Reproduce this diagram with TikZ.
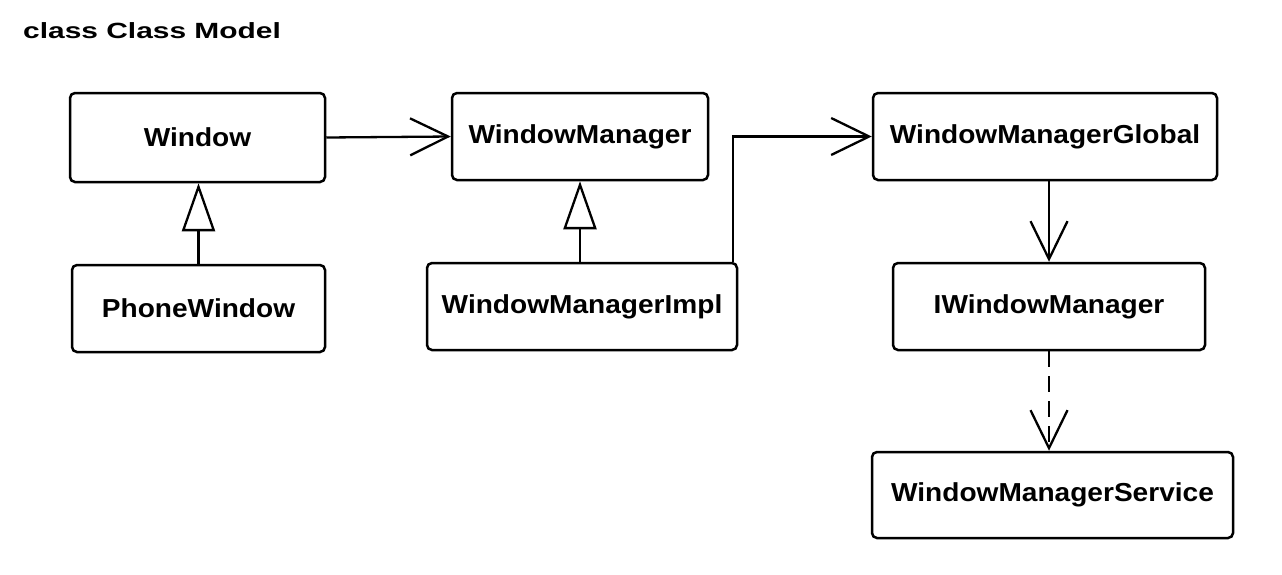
\documentclass[tikz,border=0pt]{standalone}
\usepackage{fontspec}
\setmainfont{Liberation Sans}[FakeStretch=1.08]
\newfontfamily\titlefont{Liberation Sans}[FakeStretch=1.36]
\usetikzlibrary{arrows.meta}
\begin{document}
\begin{tikzpicture}[x=1pt,y=-1pt,
  umlbox/.style={draw=black, line width=2.5pt, rounded corners=5pt, fill=white,
    font=\fontsize{26}{30}\selectfont\bfseries, inner sep=0pt},
  assoc/.style={line width=2.3pt, -{Straight Barb[length=38pt,width=37pt]}},
  inherit/.style={line width=2.3pt, -{Triangle[open,length=48pt,width=33pt,fill=white]}},
  depend/.style={line width=2.3pt, dash pattern=on 16pt off 9pt, -{Straight Barb[length=38pt,width=37pt]}}
]
\useasboundingbox[fill=white] (0,0) rectangle (1282,574);
\node[anchor=base west, font=\titlefont\fontsize{22}{26}\selectfont\bfseries, inner sep=0pt] (title) at (23,38) {class Class Model};

\node[umlbox, minimum width=255pt, minimum height=89pt] (win) at (197.5,137.5) {Window};
\node[umlbox, minimum width=253pt, minimum height=87pt] (pw) at (198.5,308.5) {PhoneWindow};
\node[umlbox, minimum width=256pt, minimum height=87pt] (wm) at (580,136.5) {WindowManager};
\node[umlbox, minimum width=310pt, minimum height=87pt] (impl) at (582,306.5) {WindowManagerImpl};
\node[umlbox, minimum width=344pt, minimum height=87pt] (glob) at (1045,136.5) {WindowManagerGlobal};
\node[umlbox, minimum width=312pt, minimum height=87pt] (iwm) at (1049,306.5) {IWindowManager};
\node[umlbox, minimum width=361pt, minimum height=86pt] (svc) at (1052.5,495) {WindowManagerService};

\draw[assoc] (win.east) -- (wm.west);
\draw[inherit] (pw.north) -- (pw.north |- win.south);
\draw[inherit] (wm.south |- impl.north) -- (wm.south);
\draw[assoc] ([xshift=-5pt]impl.north east) |- (glob.west);
\draw[assoc] (glob.south -| iwm.north) -- (iwm.north);
\draw[depend] (iwm.south) -- (iwm.south |- svc.north);
\end{tikzpicture}
\end{document}
